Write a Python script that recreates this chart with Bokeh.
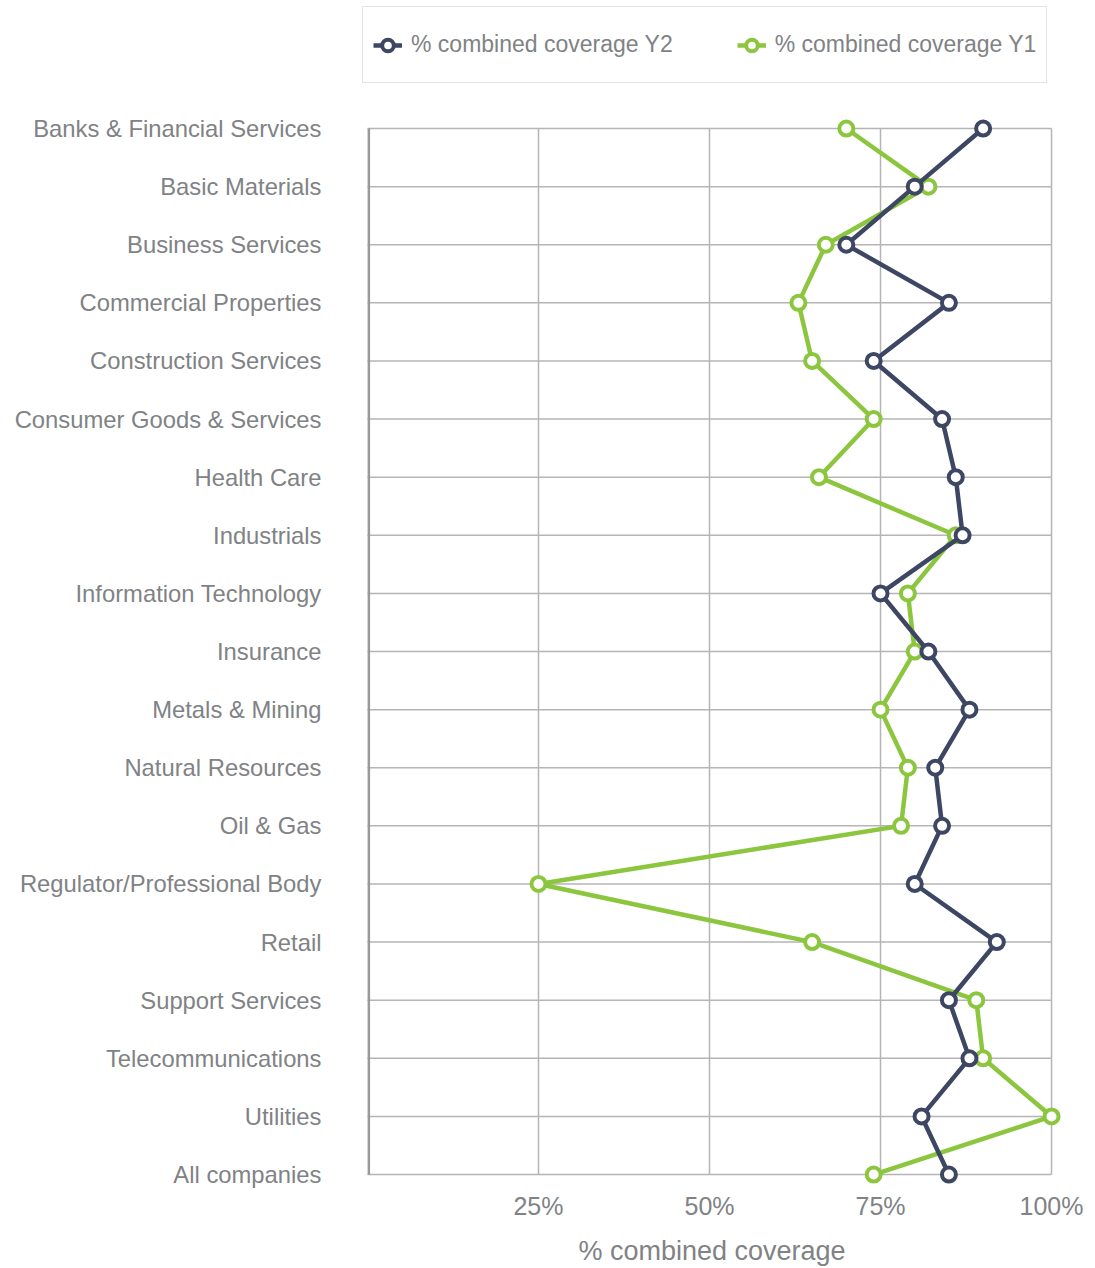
from bokeh.plotting import figure
from bokeh.models import (Range1d, FixedTicker, PrintfTickFormatter, Legend, LegendItem,
                          ColumnDataSource)
from bokeh.embed import file_html
from bokeh.resources import INLINE

categories = [
    "Banks & Financial Services", "Basic Materials", "Business Services",
    "Commercial Properties", "Construction Services", "Consumer Goods & Services",
    "Health Care", "Industrials", "Information Technology", "Insurance",
    "Metals & Mining", "Natural Resources", "Oil & Gas",
    "Regulator/Professional Body", "Retail", "Support Services",
    "Telecommunications", "Utilities", "All companies",
]
coverage_y2 = [90, 80, 70, 85, 74, 84, 86, 87, 75, 82, 88, 83, 84, 80, 92, 85, 88, 81, 85]
coverage_y1 = [70, 82, 67, 63, 65, 74, 66, 86, 79, 80, 75, 79, 78, 25, 65, 89, 90, 100, 74]
x_ticks = [25, 50, 75, 100]

FONT = "Liberation Sans"
GREY_TEXT = "#808285"
GRID = "#b5b5b5"
NAVY = "#3d4663"
GREEN = "#8cc63f"

idx = list(range(len(categories)))
n = len(categories)

# frame spans x 360..1063 px and y 0..1186 px; the extra room on top holds the legend
p = figure(width=1095, height=1268, output_backend="svg", toolbar_location=None,
           x_range=Range1d(-1.02, 101.75), y_range=Range1d(n - 1 + 0.206, -2.203),
           min_border_left=360, min_border_right=32, min_border_top=0,
           min_border_bottom=82)
p.outline_line_color = None
p.background_fill_color = "white"
p.border_fill_color = "white"
p.xgrid.visible = False
p.ygrid.visible = False

# grid lines
p.segment(x0=[0] * n, x1=[100] * n, y0=idx, y1=idx, line_color=GRID, line_width=1.5)
p.segment(x0=x_ticks, x1=x_ticks, y0=[0] * len(x_ticks), y1=[n - 1] * len(x_ticks),
          line_color=GRID, line_width=1.5)
p.segment(x0=[0.2], x1=[0.2], y0=[0], y1=[n - 1], line_color="#999999", line_width=2.5)

src = ColumnDataSource(dict(y=idx, y1=coverage_y1, y2=coverage_y2))

l1 = p.line("y1", "y", source=src, line_color=GREEN, line_width=4.5)
s1 = p.scatter("y1", "y", source=src, size=14, fill_color="white", line_color=GREEN, line_width=4)
l2 = p.line("y2", "y", source=src, line_color=NAVY, line_width=4.5)
s2 = p.scatter("y2", "y", source=src, size=14, fill_color="white", line_color=NAVY, line_width=4)

# x axis
xa = p.xaxis[0]
xa.ticker = FixedTicker(ticks=x_ticks)
xa.formatter = PrintfTickFormatter(format="%d%%")
xa.axis_line_color = None
xa.major_tick_line_color = None
xa.minor_tick_line_color = None
xa.major_tick_out = 0
xa.major_tick_in = 0
xa.major_label_standoff = 5
xa.major_label_text_font = FONT
xa.major_label_text_font_size = "25px"
xa.major_label_text_color = GREY_TEXT
xa.axis_label = "% combined coverage"
xa.axis_label_text_font = FONT
xa.axis_label_text_font_size = "27px"
xa.axis_label_text_font_style = "normal"
xa.axis_label_text_color = GREY_TEXT
xa.axis_label_standoff = 13

# y axis
ya = p.yaxis[0]
ya.ticker = FixedTicker(ticks=idx)
ya.major_label_overrides = {i: c for i, c in zip(idx, categories)}
ya.axis_line_color = None
ya.major_tick_line_color = None
ya.minor_tick_line_color = None
ya.major_tick_out = 0
ya.major_label_standoff = 39
ya.major_label_text_font = FONT
ya.major_label_text_font_size = "23.8px"
ya.major_label_text_color = GREY_TEXT

legend = Legend(items=[
    LegendItem(label="% combined coverage Y2", renderers=[l2, s2]),
    LegendItem(label="% combined coverage Y1", renderers=[l1, s1]),
], orientation="horizontal", location=(2, 1103))
legend.label_text_font = FONT
legend.label_text_font_size = "23px"
legend.label_text_color = GREY_TEXT
legend.border_line_color = "#c8c8c8"
legend.border_line_width = 1.5
legend.padding = 10
legend.spacing = 64
legend.label_standoff = 9
legend.glyph_width = 29
legend.glyph_height = 40
legend.label_height = 55
legend.margin = 0
p.add_layout(legend, "center")

open("out.html", "w").write(file_html(p, INLINE))
